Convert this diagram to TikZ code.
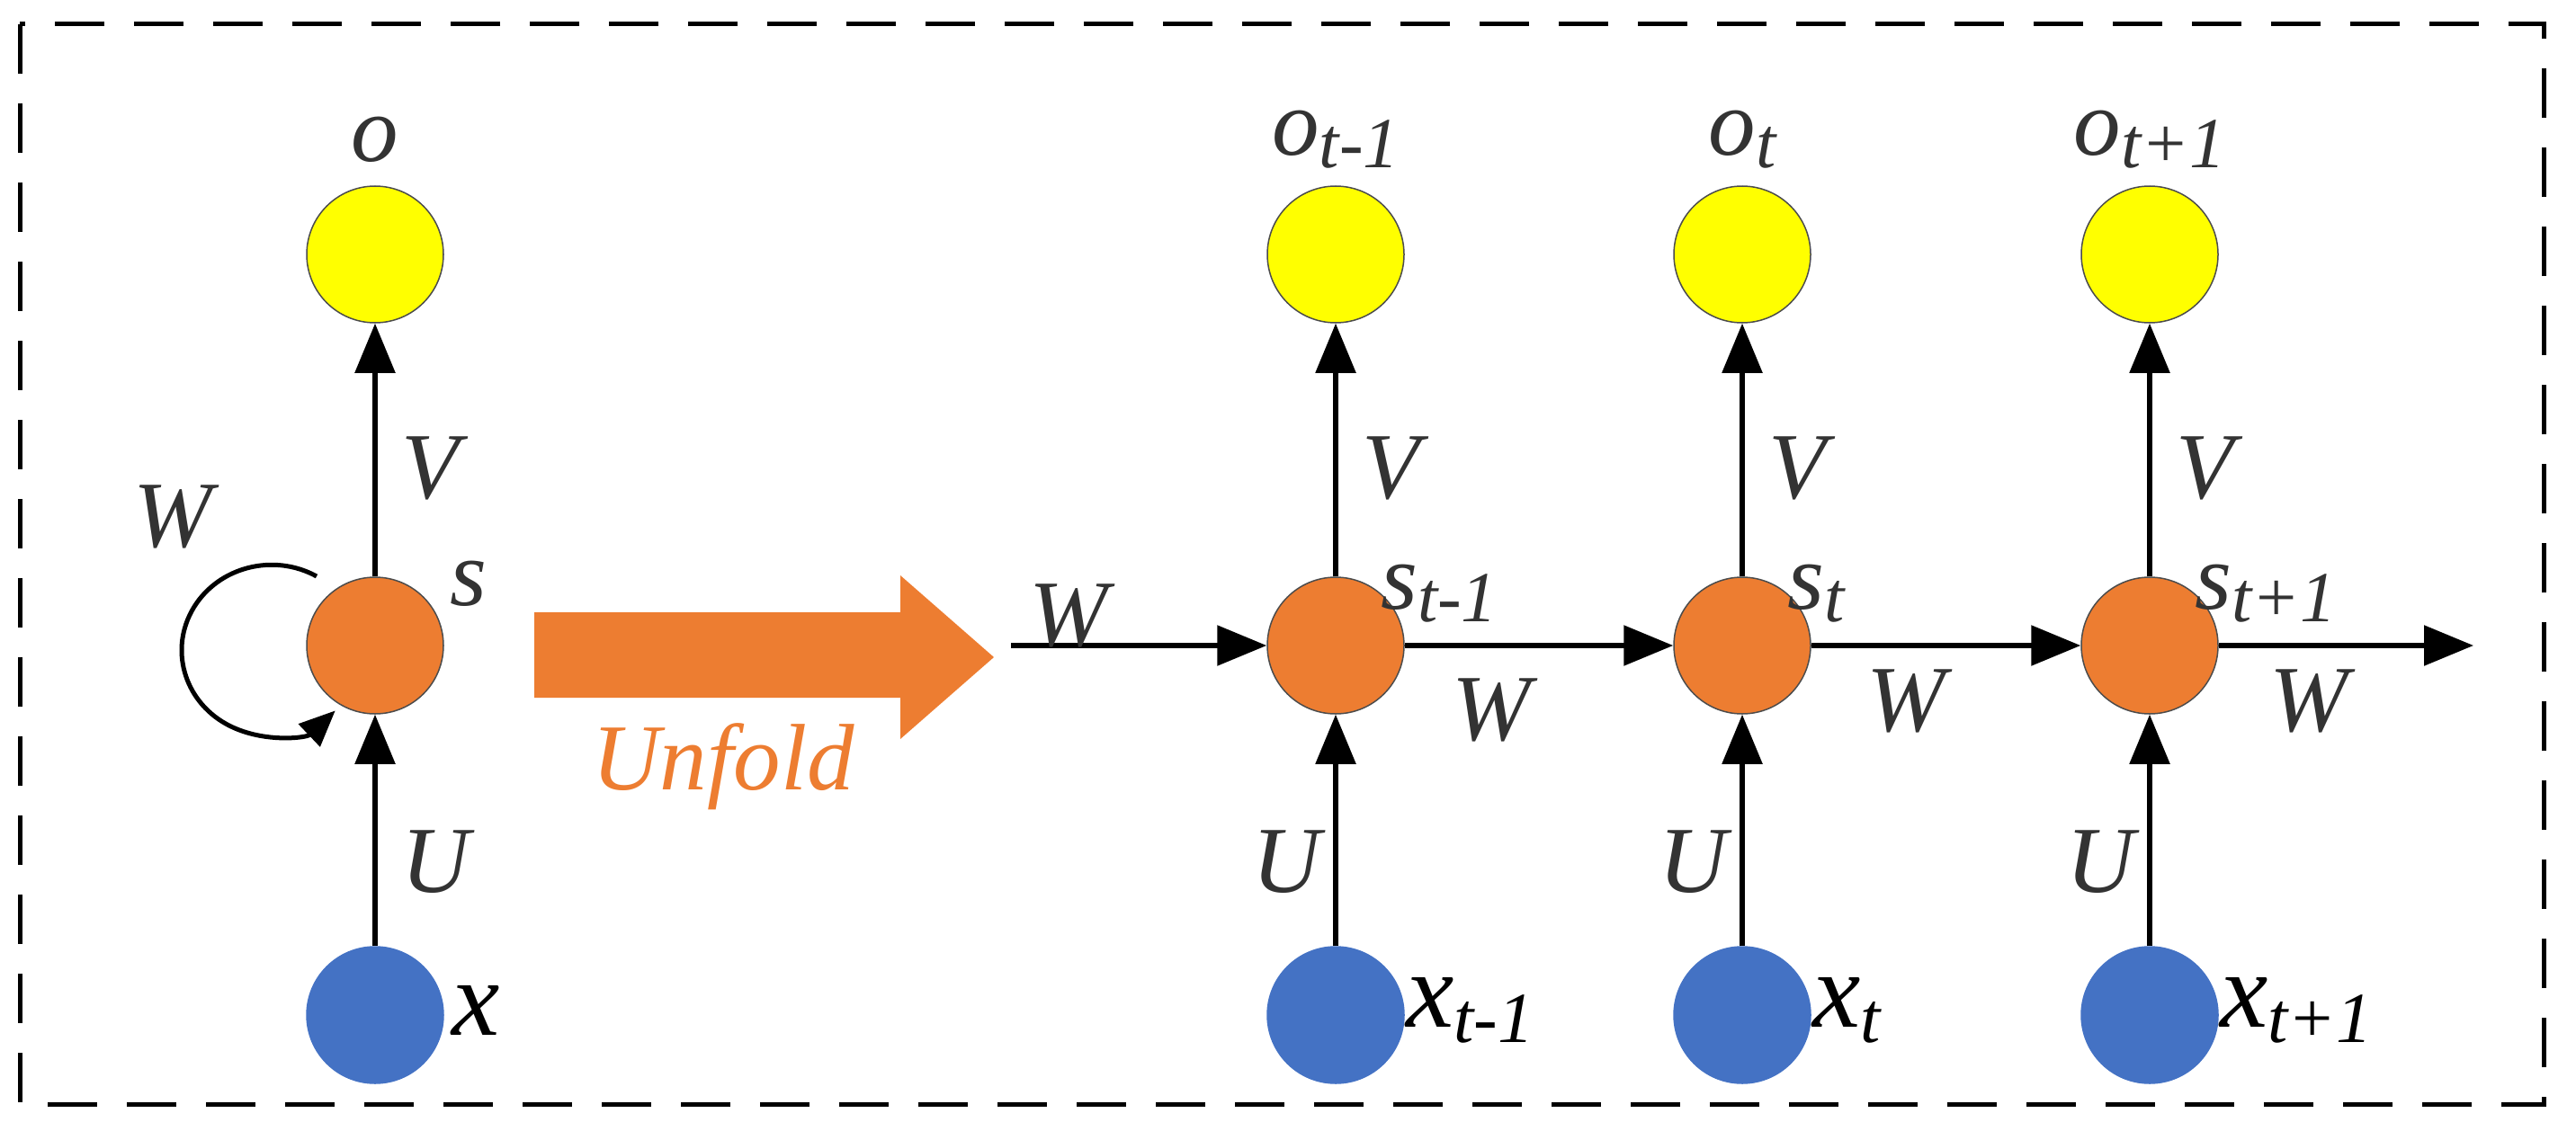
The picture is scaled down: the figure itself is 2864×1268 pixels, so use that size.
\documentclass[tikz,border=0pt]{standalone}
\usepackage{fontspec}
\setmainfont{Liberation Serif}
\newfontfamily\tms{Liberation Serif}
\usetikzlibrary{arrows.meta}
\definecolor{cor}{HTML}{ED7D31}
\definecolor{cye}{HTML}{FFFF00}
\definecolor{cbl}{HTML}{4472C4}
\newcommand{\lsub}[1]{\raisebox{-0.3ex}{\fontsize{80}{90}\selectfont #1}}
\begin{document}
\begin{tikzpicture}[x=1pt,y=-1pt,
  circ/.style={circle,minimum size=152pt,inner sep=0pt,draw=black!70,line width=1.5pt},
  onode/.style={circ,fill=cye},
  snode/.style={circ,fill=cor},
  xnode/.style={circ,fill=cbl,draw=cbl},
  arr/.style={line width=5.5pt,-{Triangle[length=55pt,width=44pt]}},
  lab/.style={font=\tms\fontsize{105}{110}\selectfont\itshape,text=black!80,inner sep=0pt},
  big/.style={font=\tms\fontsize{120}{130}\selectfont\itshape,inner sep=0pt}]
\useasboundingbox (0,0) rectangle (2864,1268);
\draw[line width=5pt,dash pattern=on 55pt off 33pt] (22,27) rectangle (2828,1228);
% folded
\node[onode] (o) at (417,283) {};
\node[snode] (s) at (417,718) {};
\node[xnode] (x) at (417,1129) {};
\draw[arr] (s) -- (o);
\draw[arr] (x) -- (s);
\draw[line width=5pt,-{Triangle[length=40pt,width=34pt]}] (352,641) arc[start angle=-60,end angle=-315,x radius=100,y radius=95];
\node[lab] at (417,155) {o};
\node[lab] at (479,521) {V};
\node[lab] at (484,959) {U};
\node[lab] at (192,575) {W};
\node[lab] at (521,649) {s};
\node[big,anchor=west] at (502,1124) {x};
% unfold arrow
\fill[cor] (594,681) -- (1001,681) -- (1001,640) -- (1105,731) -- (1001,822) -- (1001,776) -- (594,776) -- cycle;
\node[lab,text=cor] at (804,853) {Unfold};
% unfolded
\foreach \n/\xx/\t in {a/1485/t-1,b/1937/t,c/2390/t+1}{
  \node[onode] (o\n) at (\xx,283) {};
  \node[snode] (s\n) at (\xx,718) {};
  \node[xnode] (x\n) at (\xx,1129) {};
  \draw[arr] (s\n) -- (o\n);
  \draw[arr] (x\n) -- (s\n);
  \node[lab] at (\xx,155) {o\lsub{\t}};
  \node[lab] at (\xx+62,521) {V};
  \node[lab] at (\xx-55,959) {U};
  \node[lab,anchor=west] at (\xx+50,660) {s\lsub{\t}};
  \node[big,anchor=west] at (\xx+78,1124) {x\lsub{\t}};
}
\coordinate (in) at (1124,718);
\coordinate (out) at (2750,718);
\draw[arr] (in) -- (sa);
\draw[arr] (sa) -- (sb);
\draw[arr] (sb) -- (sc);
\draw[arr] (sc) -- (out);
\node[lab] at (1188,685) {W};
\node[lab] at (1658,790) {W};
\node[lab] at (2119,780) {W};
\node[lab] at (2567,780) {W};
\end{tikzpicture}
\end{document}
